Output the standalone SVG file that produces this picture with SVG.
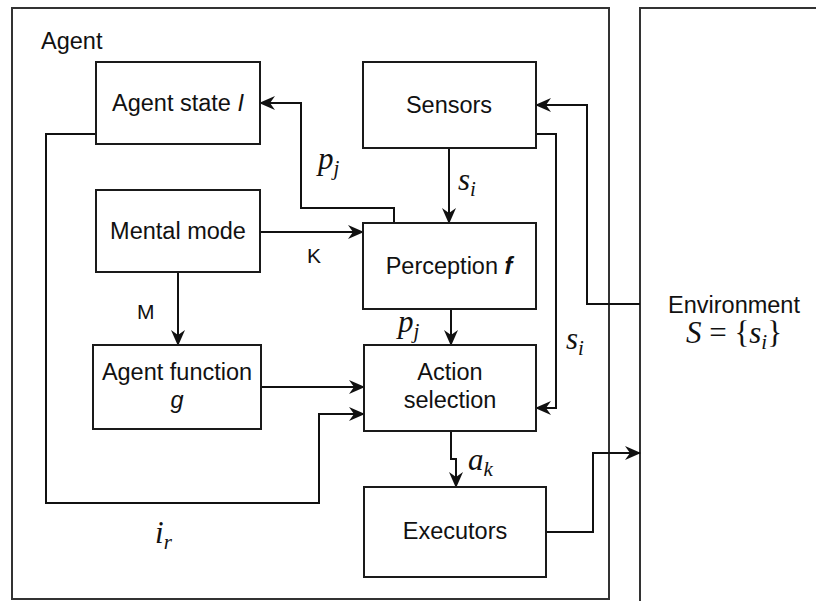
<svg xmlns="http://www.w3.org/2000/svg" width="816" height="601" viewBox="0 0 816 601">
  <style>
    .frame { fill: #ffffff; stroke: #333333; stroke-width: 2; }
    .box { fill: #ffffff; stroke: #1a1a1a; stroke-width: 2; }
    .lbl { font-family: "Liberation Sans", Arial, sans-serif; font-size: 23.5px; fill: #111111; text-anchor: middle; }
    .small { font-family: "Liberation Sans", Arial, sans-serif; font-size: 21px; fill: #111111; }
    .math { font-family: "Liberation Serif", "Times New Roman", serif; font-style: italic; font-size: 31px; fill: #111111; }
    .sub { font-size: 21px; }
    .wire { fill: none; stroke: #111111; stroke-width: 2; }
    .arrow { marker-end: url(#head); }
  </style>
  <defs>
    <marker id="head" viewBox="0 0 16 14" refX="15" refY="7" markerWidth="16" markerHeight="14" markerUnits="userSpaceOnUse" orient="auto">
      <path d="M0,0 L16,7 L0,14 L5,7 Z" fill="#111111"/>
    </marker>
  </defs>

  <rect width="816" height="601" fill="#ffffff"/>

  <!-- containers -->
  <g id="agent">
    <rect class="frame" x="12" y="8" width="597" height="591"/>
    <text class="lbl" x="41" y="49" style="text-anchor:start">Agent</text>
  </g>
  <g id="environment">
    <rect class="frame" x="640" y="8" width="190" height="600"/>
    <text class="lbl" x="734" y="313">Environment</text>
    <text class="math" x="734" y="343" text-anchor="middle">S <tspan font-style="normal">= {</tspan>s<tspan class="sub" dy="6">i</tspan><tspan font-style="normal" dy="-6">}</tspan></text>
  </g>

  <!-- connectors -->
  <g id="connectors">
    <!-- perception -> agent state -->
    <path class="wire arrow" d="M394,223 V208 H301 V103 H260"/>
    <!-- sensors -> perception -->
    <path class="wire arrow" d="M449,148 V223"/>
    <!-- mental mode -> perception -->
    <path class="wire arrow" d="M260,232 H363"/>
    <!-- mental mode -> agent function -->
    <path class="wire arrow" d="M178,272 V345"/>
    <!-- agent state -> action selection -->
    <path class="wire arrow" d="M96,134 H46 V503 H319 V414 H364"/>
    <!-- agent function -> action selection -->
    <path class="wire arrow" d="M261,387 H364"/>
    <!-- perception -> action selection -->
    <path class="wire arrow" d="M451,309 V345"/>
    <!-- sensors -> action selection -->
    <path class="wire arrow" d="M536,134 H556 V408 H536"/>
    <!-- environment -> sensors -->
    <path class="wire arrow" d="M640,304 H587 V105 H536"/>
    <!-- action selection -> executors -->
    <path class="wire arrow" d="M451,431 V459 H456 V487"/>
    <!-- executors -> environment -->
    <path class="wire arrow" d="M546,532 H593 V453 H640"/>
  </g>

  <!-- connector labels -->
  <g id="labels">
    <text class="math" x="318" y="169">p<tspan class="sub" dy="6">j</tspan></text>
    <text class="math" x="458" y="190">s<tspan class="sub" dy="6">i</tspan></text>
    <text class="small" x="307" y="263">K</text>
    <text class="small" x="137" y="319">M</text>
    <text class="math" x="398" y="332">p<tspan class="sub" dy="6">j</tspan></text>
    <text class="math" x="566" y="349">s<tspan class="sub" dy="6">i</tspan></text>
    <text class="math" x="468" y="470">a<tspan class="sub" dy="6">k</tspan></text>
    <text class="math" x="155" y="543">i<tspan class="sub" dy="6">r</tspan></text>
  </g>

  <!-- nodes -->
  <g id="agent-state">
    <rect class="box" x="96" y="62" width="164" height="82"/>
    <text class="lbl" x="178" y="111">Agent state <tspan font-style="italic">I</tspan></text>
  </g>
  <g id="sensors">
    <rect class="box" x="363" y="62" width="173" height="86"/>
    <text class="lbl" x="449" y="113">Sensors</text>
  </g>
  <g id="mental-mode">
    <rect class="box" x="96" y="190" width="164" height="82"/>
    <text class="lbl" x="178" y="239">Mental mode</text>
  </g>
  <g id="perception">
    <rect class="box" x="363" y="223" width="173" height="86"/>
    <text class="lbl" x="449" y="274">Perception <tspan font-style="italic" font-weight="bold">f</tspan></text>
  </g>
  <g id="agent-function">
    <rect class="box" x="93" y="345" width="168" height="84"/>
    <text class="lbl" x="177" y="380">Agent function</text>
    <text class="lbl" x="177" y="408" font-style="italic">g</text>
  </g>
  <g id="action-selection">
    <rect class="box" x="364" y="345" width="172" height="86"/>
    <text class="lbl" x="450" y="380">Action</text>
    <text class="lbl" x="450" y="408">selection</text>
  </g>
  <g id="executors">
    <rect class="box" x="364" y="487" width="182" height="90"/>
    <text class="lbl" x="455" y="539">Executors</text>
  </g>
</svg>
